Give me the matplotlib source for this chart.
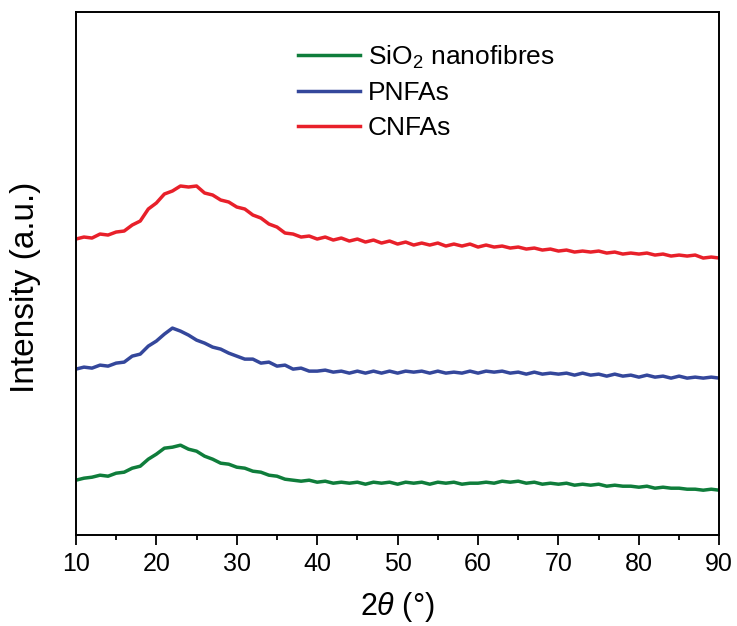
import numpy as np
import matplotlib.pyplot as plt

plt.rcParams['font.family'] = ['Liberation Sans', 'DejaVu Sans']
plt.rcParams['mathtext.fontset'] = 'custom'
plt.rcParams['mathtext.it'] = 'Liberation Sans:italic'
plt.rcParams['mathtext.rm'] = 'Liberation Sans'

# 2theta positions, one point per degree
two_theta = np.arange(10, 91, 1)

# intensities (a.u.); curves are offset vertically
sio2 = [120, 122, 123, 125, 124, 127, 128, 132, 134, 141,
        146, 152, 153, 155, 151, 149, 144, 141, 137, 136,
        133, 132, 129, 128, 125, 124, 121, 120, 119, 120,
        118, 119, 117, 118, 117, 118, 116, 118, 117, 118,
        116, 118, 117, 118, 116, 118, 117, 118, 116, 117,
        117, 118, 117, 119, 118, 119, 117, 118, 116, 117,
        116, 117, 115, 116, 115, 116, 114, 115, 114, 114,
        113, 114, 112, 113, 112, 112, 111, 111, 110, 111,
        110]
pnfas = [231, 233, 232, 235, 234, 237, 238, 244, 246, 254,
         259, 266, 272, 269, 265, 260, 257, 253, 251, 247,
         244, 241, 241, 237, 238, 234, 235, 231, 232, 229,
         229, 230, 228, 229, 227, 229, 227, 229, 227, 229,
         227, 229, 228, 229, 227, 229, 227, 228, 227, 229,
         227, 229, 228, 229, 227, 228, 226, 228, 226, 227,
         226, 227, 225, 227, 225, 226, 224, 226, 224, 225,
         223, 225, 223, 224, 222, 224, 222, 223, 222, 223,
         222]
cnfas = [361, 363, 362, 366, 365, 368, 369, 375, 379, 391,
         397, 406, 409, 414, 413, 414, 407, 405, 400, 398,
         393, 391, 385, 382, 376, 373, 367, 366, 363, 364,
         361, 363, 360, 362, 359, 361, 358, 360, 357, 359,
         356, 358, 355, 357, 355, 357, 354, 356, 354, 356,
         353, 355, 353, 354, 352, 353, 351, 352, 350, 351,
         349, 350, 348, 349, 348, 349, 347, 348, 346, 347,
         346, 347, 345, 346, 344, 345, 344, 345, 342, 343,
         342]

labels = ['SiO$_2$ nanofibres', 'PNFAs', 'CNFAs']
colors = ['#0f7d3b', '#34479b', '#e8202a']

fig = plt.figure(figsize=(7.37, 6.26), dpi=100)
ax = fig.add_axes([0.103, 0.145, 0.873, 0.836])

for ys, lab, c in zip([sio2, pnfas, cnfas], labels, colors):
    ax.plot(two_theta, ys, color=c, lw=2.5, label=lab)

ax.set_xlim(10, 90)
ax.set_ylim(65, 588)
ax.set_xticks(np.arange(10, 91, 10))
ax.set_xticks(np.arange(15, 90, 10), minor=True)
ax.set_yticks([])
ax.tick_params(axis='x', which='major', direction='out', length=7, width=1.3,
               labelsize=18, pad=5)
ax.tick_params(axis='x', which='minor', direction='out', length=3.6, width=1.3)
for s in ax.spines.values():
    s.set_linewidth(1.4)

ax.set_xlabel(r'2$\it{\theta}$ (°)', fontsize=22, labelpad=10)
ax.set_ylabel('Intensity (a.u.)', fontsize=24)
ax.yaxis.set_label_coords(-0.055, 0.474)

ax.legend(loc='upper left', bbox_to_anchor=(0.308, 0.985), frameon=False,
          fontsize=19, handlelength=2.35, handletextpad=0.3, labelspacing=0.4)

fig.savefig('out.png', dpi=100)
